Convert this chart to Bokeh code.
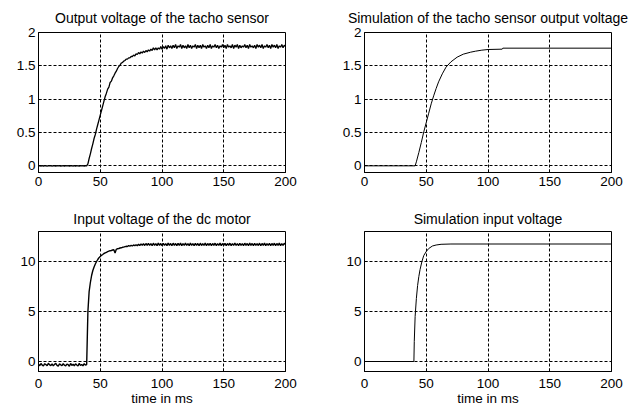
from bokeh.plotting import figure
from bokeh.layouts import gridplot
from bokeh.models import FixedTicker, Range1d
from bokeh.embed import file_html
from bokeh.resources import INLINE

FONT = "Liberation Sans"

titles = ["Output voltage of the tacho sensor",
          "Simulation of the tacho sensor output voltage",
          "Input voltage of the dc motor",
          "Simulation input voltage"]
x_label = "time in ms"
x_ticks = [0, 50, 100, 150, 200]
x_tick_labels = ["0", "50", "100", "150", "200"]
tacho_y_ticks = [0, 0.5, 1, 1.5, 2]
tacho_y_labels = ["0", "0.5", "1", "1.5", "2"]
motor_y_ticks = [0, 5, 10]
motor_y_labels = ["0", "5", "10"]

# measured signals, one sample per ms
meas_t = list(range(201))
meas_tacho = [
    0.00, 0.004, -0.003, 0.002, -0.004, 0.003, 0.000, -0.003, 0.004, -0.002,
    0.003, -0.004, 0.002, 0.000, -0.003, 0.004, -0.002, 0.003, -0.004, 0.001,
    0.004, -0.003, 0.002, -0.002, 0.003, -0.004, 0.001, 0.003, -0.003, 0.002,
    -0.004, 0.003, 0.000, -0.003, 0.004, -0.002, 0.003, -0.004, 0.002, 0.000,
    0.03, 0.11, 0.18, 0.26, 0.33, 0.41, 0.47, 0.55, 0.62, 0.69,
    0.76, 0.83, 0.90, 0.97, 1.04, 1.09, 1.15, 1.18, 1.25, 1.27,
    1.32, 1.35, 1.39, 1.42, 1.46, 1.49, 1.51, 1.54, 1.55, 1.57,
    1.58, 1.60, 1.60, 1.62, 1.62, 1.64, 1.64, 1.66, 1.65, 1.68,
    1.67, 1.70, 1.68, 1.71, 1.69, 1.72, 1.70, 1.73, 1.71, 1.74,
    1.72, 1.75, 1.73, 1.77, 1.74, 1.77, 1.74, 1.77, 1.75, 1.79,
    1.75, 1.79, 1.76, 1.80, 1.75, 1.81, 1.77, 1.80, 1.76, 1.81,
    1.77, 1.82, 1.76, 1.80, 1.78, 1.82, 1.76, 1.81, 1.77, 1.80,
    1.76, 1.82, 1.77, 1.81, 1.76, 1.80, 1.78, 1.82, 1.76, 1.81,
    1.77, 1.81, 1.76, 1.82, 1.78, 1.80, 1.76, 1.81, 1.77, 1.82,
    1.76, 1.80, 1.78, 1.82, 1.77, 1.81, 1.76, 1.80, 1.78, 1.82,
    1.77, 1.81, 1.76, 1.82, 1.78, 1.80, 1.77, 1.82, 1.76, 1.81,
    1.78, 1.82, 1.76, 1.81, 1.77, 1.80, 1.78, 1.82, 1.77, 1.81,
    1.76, 1.82, 1.78, 1.80, 1.77, 1.81, 1.76, 1.82, 1.78, 1.81,
    1.77, 1.82, 1.76, 1.80, 1.78, 1.82, 1.77, 1.81, 1.76, 1.82,
    1.78, 1.81, 1.77, 1.82, 1.76, 1.80, 1.78, 1.82, 1.77, 1.81, 1.79,
]
meas_motor = [
    -0.28, -0.42, -0.20, -0.36, -0.45, -0.22, -0.31, -0.43, -0.18, -0.34,
    -0.40, -0.24, -0.44, -0.29, -0.19, -0.38, -0.46, -0.23, -0.33, -0.41,
    -0.21, -0.37, -0.44, -0.26, -0.32, -0.47, -0.20, -0.39, -0.28, -0.43,
    -0.23, -0.35, -0.45, -0.19, -0.40, -0.30, -0.44, -0.22, -0.36, -0.30,
    5.00, 7.00, 7.90, 8.60, 9.10, 9.45, 9.75, 10.00, 10.20, 10.38,
    10.50, 10.62, 10.70, 10.80, 10.86, 10.92, 10.98, 11.03, 11.08, 11.10,
    11.15, 11.18, 10.85, 11.22, 11.28, 11.30, 11.35, 11.37, 11.42, 11.44,
    11.48, 11.52, 11.50, 11.58, 11.53, 11.62, 11.55, 11.66, 11.57, 11.68,
    11.58, 11.72, 11.60, 11.76, 11.62, 11.78, 11.60, 11.80, 11.62, 11.82,
    11.60, 11.80, 11.58, 11.83, 11.62, 11.79, 11.59, 11.84, 11.61, 11.80,
    11.58, 11.82, 11.62, 11.79, 11.59, 11.84, 11.61, 11.80, 11.58, 11.83,
    11.62, 11.80, 11.59, 11.82, 11.61, 11.84, 11.58, 11.79, 11.62, 11.83,
    11.60, 11.80, 11.58, 11.84, 11.61, 11.79, 11.59, 11.82, 11.62, 11.80,
    11.58, 11.83, 11.60, 11.79, 11.62, 11.84, 11.59, 11.80, 11.61, 11.82,
    11.58, 11.80, 11.62, 11.83, 11.59, 11.79, 11.61, 11.84, 11.58, 11.80,
    11.62, 11.82, 11.59, 11.80, 11.61, 11.83, 11.58, 11.79, 11.62, 11.84,
    11.60, 11.80, 11.58, 11.82, 11.61, 11.79, 11.59, 11.83, 11.62, 11.80,
    11.58, 11.84, 11.61, 11.80, 11.59, 11.82, 11.62, 11.79, 11.60, 11.83,
    11.58, 11.80, 11.62, 11.84, 11.59, 11.79, 11.61, 11.82, 11.58, 11.80,
    11.62, 11.83, 11.59, 11.80, 11.61, 11.84, 11.58, 11.79, 11.62, 11.82, 11.70,
]

# simulated signals
sim_tacho_t = [0, 41, 42, 44, 46, 48, 50, 52, 54, 56, 58, 60, 63, 66, 70, 75,
               80, 86, 90, 95, 100, 111.5, 112, 200]
sim_tacho_v = [0, 0, 0.06, 0.20, 0.35, 0.51, 0.65, 0.79, 0.93, 1.05, 1.16, 1.26,
               1.38, 1.48, 1.56, 1.63, 1.675, 1.705, 1.72, 1.735, 1.745, 1.75,
               1.765, 1.765]
sim_motor_t = [0, 40, 40.3, 41, 42, 43, 44, 45, 46.5, 48, 50, 52, 55, 58, 62, 70, 200]
sim_motor_v = [0, 0, 2.0, 4.5, 6.3, 7.6, 8.5, 9.2, 10.0, 10.6, 11.0, 11.3, 11.55,
               11.65, 11.72, 11.75, 11.75]


def make_fig(title, ylim, yticks, ylabels, xlabel, left, right, top, bottom,
             title_standoff, xlabel_standoff):
    p = figure(frame_width=247, frame_height=140,
               x_range=Range1d(0, 200), y_range=Range1d(*ylim),
               output_backend="svg", toolbar_location=None,
               min_border_left=left, min_border_right=right,
               min_border_top=top, min_border_bottom=bottom,
               background_fill_color="white", border_fill_color="white")
    p.title.text = title
    p.title.align = "center"
    p.title.text_font = FONT
    p.title.text_font_size = "14px"
    p.title.text_font_style = "normal"
    p.title.text_color = "black"
    p.title.standoff = title_standoff
    p.outline_line_color = "black"
    p.outline_line_alpha = 1
    p.outline_line_width = 1

    p.xaxis.ticker = FixedTicker(ticks=x_ticks)
    p.xaxis.major_label_overrides = dict(zip(x_ticks, x_tick_labels))
    p.yaxis.ticker = FixedTicker(ticks=yticks)
    p.yaxis.major_label_overrides = dict(zip(yticks, ylabels))
    for ax in (p.xaxis[0], p.yaxis[0]):
        ax.major_tick_in = 3
        ax.major_tick_out = 0
        ax.minor_tick_line_color = None
        ax.axis_line_color = "black"
        ax.major_tick_line_color = "black"
        ax.major_label_text_font = FONT
        ax.major_label_text_font_size = "13.5px"
        ax.major_label_text_color = "black"
        ax.major_label_standoff = 3
    p.xaxis.major_label_standoff = xlabel_standoff
    if xlabel:
        p.xaxis.axis_label = xlabel
        p.xaxis.axis_label_text_font = FONT
        p.xaxis.axis_label_text_font_size = "13.5px"
        p.xaxis.axis_label_text_font_style = "normal"
        p.xaxis.axis_label_text_color = "black"
        p.xaxis.axis_label_standoff = 0

    p.xgrid.ticker = FixedTicker(ticks=x_ticks)
    p.ygrid.ticker = FixedTicker(ticks=yticks)
    for g in (p.xgrid[0], p.ygrid[0]):
        g.grid_line_color = "black"
        g.grid_line_alpha = 1
        g.grid_line_width = 1
        g.grid_line_dash = "3 2"
    return p


p1 = make_fig(titles[0], (-0.1, 2), tacho_y_ticks, tacho_y_labels, None,
              38, 49, 32, 31, 14, 4)
p1.line(meas_t, meas_tacho, line_color="black", line_width=1.3)

p2 = make_fig(titles[1], (-0.1, 2), tacho_y_ticks, tacho_y_labels, None,
              30, 20, 32, 31, 14, 4)
p2.line(sim_tacho_t, sim_tacho_v, line_color="black", line_width=1)

p3 = make_fig(titles[2], (-1, 13), motor_y_ticks, motor_y_labels, x_label,
              38, 49, 28, 37, 10, 7)
p3.line(meas_t, meas_motor, line_color="black", line_width=1.4)

p4 = make_fig(titles[3], (-1, 13), motor_y_ticks, motor_y_labels, x_label,
              30, 20, 28, 37, 10, 7)
p4.line(sim_motor_t, sim_motor_v, line_color="black", line_width=1)

grid = gridplot([[p1, p2], [p3, p4]], toolbar_location=None)

open("out.html", "w").write(file_html(grid, INLINE))
